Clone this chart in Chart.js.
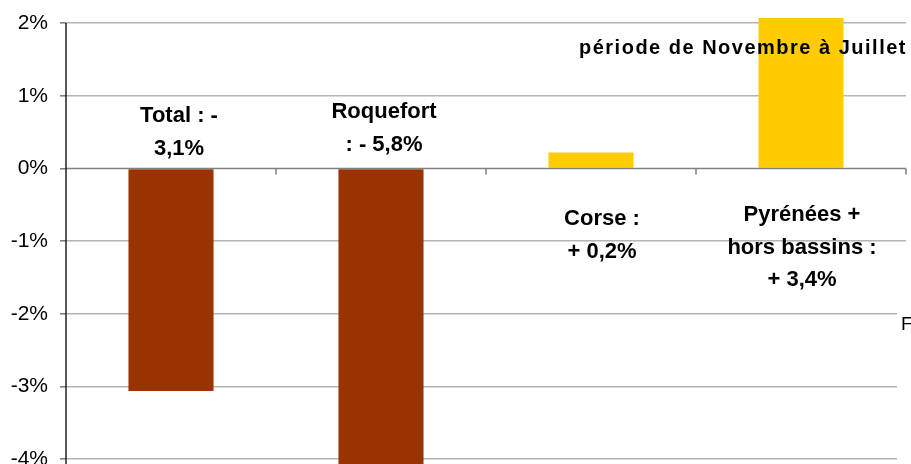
<!DOCTYPE html>
<html>
<head>
<meta charset="utf-8">
<script src="https://cdn.jsdelivr.net/npm/chart.js@4"></script>
<style>
  body { margin: 0; background: #fff; }
  #wrap { width: 911px; height: 464px; }
</style>
</head>
<body>
<div id="wrap"><canvas id="evolChart" width="911" height="464"></canvas></div>
<script>
// =========================
// DATA
// =========================
const categories = ["Total", "Roquefort", "Corse", "Pyrénées + hors bassins"];
const evolution = [-3.06, -5.8, 0.22, 3.4];
const barColors = ["#993300", "#993300", "#FFCC00", "#FFCC00"];
const yTicks = [-4, -3, -2, -1, 0, 1, 2];
const barLabels = [
    ["Total : -", "3,1%"],
    ["Roquefort", ": - 5,8%"],
    ["Corse :", "+ 0,2%"],
    ["Pyrénées +", "hors bassins :", "+ 3,4%"]
];
const periodText = "période de Novembre à Juillet";

// =========================
// PLUGIN: axis lines, labels, text box
// =========================
const decorations = {
    id: "decorations",
    afterDatasetsDraw(chart) {
        const ctx = chart.ctx;
        const x = chart.scales.x;
        const y = chart.scales.y;
        const area = chart.chartArea;
        const y0 = y.getPixelForValue(0);

        ctx.save();
        // category axis at 0%
        ctx.strokeStyle = "#808080";
        ctx.lineWidth = 1.5;
        ctx.beginPath();
        ctx.moveTo(area.left, y0);
        ctx.lineTo(area.right, y0);
        for (let i = 1; i <= categories.length; i++) {
            const px = i === categories.length
                ? area.right
                : Math.round((x.getPixelForValue(i - 1) + x.getPixelForValue(i)) / 2);
            ctx.moveTo(px, y0);
            ctx.lineTo(px, y0 + 6);
        }
        ctx.stroke();

        // value axis
        ctx.strokeStyle = "#000";
        ctx.lineWidth = 1.3;
        ctx.beginPath();
        ctx.moveTo(area.left, y.getPixelForValue(2));
        ctx.lineTo(area.left, area.bottom);
        ctx.stroke();

        // bar labels
        ctx.fillStyle = "#000";
        ctx.font = "bold 22px 'Liberation Sans', Arial, sans-serif";
        ctx.textAlign = "center";
        ctx.textBaseline = "middle";
        const place = [
            { dx: 8, top: 116 },
            { dx: 3, top: 112 },
            { dx: 11, top: 219 },
            { dx: 1, top: 215 }
        ];
        barLabels.forEach((lines, i) => {
            const cx = x.getPixelForValue(i) + place[i].dx;
            lines.forEach((t, j) => {
                ctx.fillText(t, cx, place[i].top + j * 32.5);
            });
        });

        // period text
        ctx.font = "bold 20px 'Liberation Sans', Arial, sans-serif";
        ctx.letterSpacing = "1.5px";
        ctx.fillText(periodText, 743, 48);
        ctx.letterSpacing = "0px";

        // text box cut at right edge
        ctx.fillStyle = "#fff";
        ctx.fillRect(897, 290, 20, 180);
        ctx.fillStyle = "#000";
        ctx.font = "19px 'Liberation Sans', Arial, sans-serif";
        ctx.textAlign = "left";
        ctx.textBaseline = "alphabetic";
        ctx.fillText("F", 901, 330);
        ctx.restore();
    }
};

// =========================
// CHART
// =========================
new Chart(document.getElementById("evolChart"), {
    type: "bar",
    data: {
        labels: categories,
        datasets: [{
            data: evolution,
            backgroundColor: barColors,
            borderWidth: 0,
            barPercentage: 1,
            categoryPercentage: 0.405
        }]
    },
    options: {
        responsive: false,
        animation: false,
        layout: { padding: { top: 18, right: 5, bottom: 0, left: 0 } },
        plugins: {
            legend: { display: false },
            tooltip: { enabled: false }
        },
        scales: {
            x: { display: false },
            y: {
                min: -4.065,
                max: 2.07,
                afterBuildTicks: s => { s.ticks = yTicks.map(v => ({ value: v })); },
                afterFit: s => { s.width = 66; s.paddingTop = 0; s.paddingBottom = 0; },
                border: { display: false },
                grid: {
                    color: ctx => ctx.tick && ctx.tick.value === 0 ? "rgba(0,0,0,0)" : "#b4b4b4",
                    lineWidth: 1.6,
                    tickLength: 6,
                    tickColor: "#808080"
                },
                ticks: {
                    padding: 12,
                    color: "#000",
                    font: { family: "'Liberation Sans', Arial, sans-serif", size: 21 },
                    callback: v => v + "%"
                }
            }
        }
    },
    plugins: [decorations]
});
</script>
</body>
</html>
